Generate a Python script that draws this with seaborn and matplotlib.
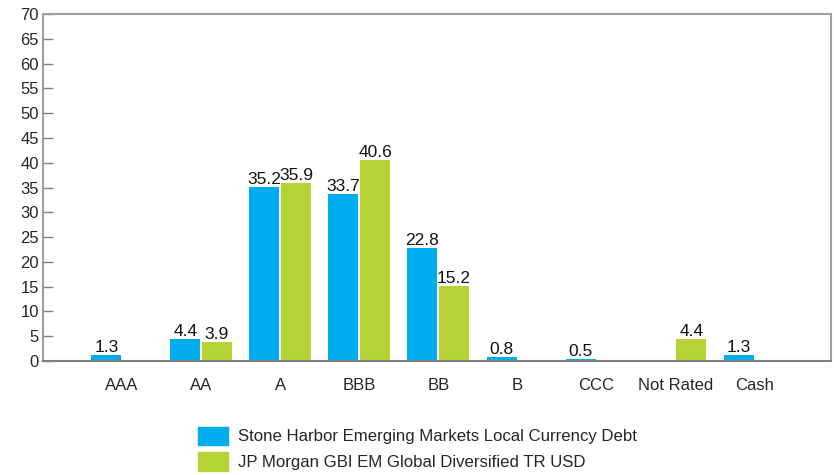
import pandas as pd
import matplotlib.pyplot as plt
import seaborn as sns

# Данные
categories = ['AAA', 'AA', 'A', 'BBB', 'BB', 'B', 'CCC', 'Not Rated', 'Cash']
fund_name = 'Stone Harbor Emerging Markets Local Currency Debt'
bench_name = 'JP Morgan GBI EM Global Diversified TR USD'
fund_values = [1.3, 4.4, 35.2, 33.7, 22.8, 0.8, 0.5, 0.0, 1.3]
bench_values = [0.0, 3.9, 35.9, 40.6, 15.2, 0.0, 0.0, 4.4, 0.0]

df = pd.DataFrame({
    'Rating': categories * 2,
    'Value': fund_values + bench_values,
    'Series': [fund_name] * len(categories) + [bench_name] * len(categories),
})

sns.set_style('white')
plt.rcParams['font.family'] = ['Liberation Sans', 'DejaVu Sans']

fig = plt.figure(figsize=(8.34, 4.75), dpi=100)
ax = fig.add_axes([0.0516, 0.24, 0.945, 0.7305])

palette = {fund_name: '#00AEEF', bench_name: '#B5D334'}
sns.barplot(data=df, x='Rating', y='Value', hue='Series', order=categories,
            hue_order=[fund_name, bench_name], palette=palette, width=0.8,
            gap=0.05, linewidth=0, saturation=1, ax=ax)

# Подписи значений
for cont, vals in zip(ax.containers, [fund_values, bench_values]):
    ax.bar_label(cont, labels=['' if v == 0 else f'{v}' for v in vals],
                 fontsize=12.5, padding=0, color='#111111')

ax.set_xlim(-1, 8.97)
ax.set_ylim(0, 70)
ax.set_yticks(range(0, 71, 5))
ax.set_xlabel('')
ax.set_ylabel('')
ax.tick_params(axis='y', direction='in', length=7, width=1, color='#808080',
               labelsize=12, pad=3, left=True)
ax.tick_params(axis='x', length=0, labelsize=12, pad=12)

for side in ['left', 'top', 'right']:
    ax.spines[side].set_color('#A0A0A0')
    ax.spines[side].set_linewidth(1.5)
ax.spines['bottom'].set_color('#808080')
ax.spines['bottom'].set_linewidth(1.5)

ax.legend_.remove()
handles = [plt.Rectangle((0, 0), 1, 1, color=palette[fund_name]),
           plt.Rectangle((0, 0), 1, 1, color=palette[bench_name])]
fig.legend(handles, [fund_name, bench_name], loc='upper left',
           bbox_to_anchor=(0.237, 0.102), frameon=False, fontsize=12.1,
           handlelength=1.8, handleheight=1.3, handletextpad=0.6,
           labelspacing=0.45, borderpad=0, borderaxespad=0)

fig.savefig('out.png', dpi=100)
